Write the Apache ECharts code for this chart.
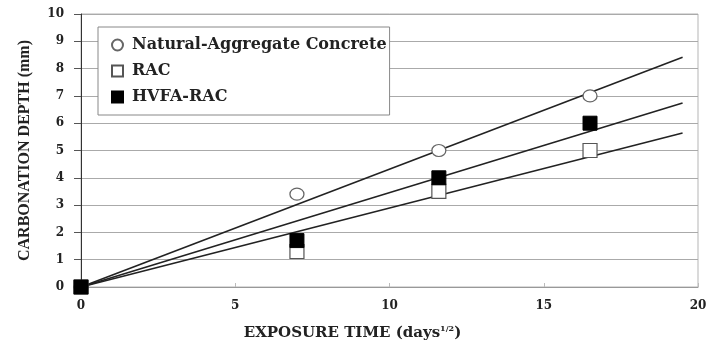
<!DOCTYPE html>
<html><head><meta charset="utf-8">
<script src="https://cdn.jsdelivr.net/npm/echarts@6/dist/echarts.min.js"></script>
<style>html,body{margin:0;padding:0;background:#fff}#c{width:710px;height:349px}</style>
</head><body><div id="c"></div>
<script>
const seriesNames = ['Natural-Aggregate Concrete', 'RAC', 'HVFA-RAC'];
const timeX = [0, 7, 11.6, 16.5];
const naturalY = [0, 3.4, 5.0, 7.0];
const racY = [0, 1.3, 3.5, 5.0];
const hvfaY = [0, 1.7, 4.0, 6.0];
const fitEndX = 19.5;
const fitEndY = [8.42, 5.64, 6.74]; // natural, rac, hvfa
const xTicks = [0, 5, 10, 15, 20];
const yTicks = [0,1,2,3,4,5,6,7,8,9,10];

const wide = 'DejaVu Serif';
const narrow = 'Liberation Serif';
const pts = ys => timeX.map((x,i)=>[x, ys[i]]);
const chart = echarts.init(document.getElementById('c'), null, {renderer:'canvas'});
const fitLine = (endY) => ({
  type:'line', data:[[0,0],[fitEndX,endY]], symbol:'none', silent:true,
  lineStyle:{color:'#222', width:1.6}, z:2
});
chart.setOption({
  animation:false,
  backgroundColor:'#fff',
  grid:{left:81, right:12, top:14, bottom:62, show:true, borderColor:'#b5b5b5', borderWidth:1},
  legend:{
    left:98, top:27, orient:'vertical', itemGap:10, itemWidth:11, itemHeight:11,
    padding:[10,3,10,13], borderColor:'#888', borderWidth:1, backgroundColor:'#fff',
    textStyle:{fontFamily:wide, fontWeight:'bold', fontSize:16, color:'#222', padding:[0,0,0,4]},
    data:seriesNames.map(n=>({name:n}))
  },
  xAxis:{
    type:'value', min:0, max:20, interval:5,
    name:'{t|EXPOSURE TIME (days}{s|1/2}{t|)}', nameLocation:'middle', nameGap:38,
    nameTextStyle:{padding:[0,74,0,0], rich:{t:{fontFamily:wide,fontWeight:'bold',fontSize:15,color:'#222'},
                          s:{fontFamily:wide,fontWeight:'bold',fontSize:8,color:'#222',verticalAlign:'top',padding:[0,0,8,0]}}},
    axisLine:{show:true, lineStyle:{color:'#999', width:1}},
    axisTick:{show:true, inside:true, length:4, lineStyle:{color:'#bbb'}},
    axisLabel:{fontFamily:wide, fontWeight:'bold', fontSize:12, color:'#222', margin:13},
    splitLine:{show:false}
  },
  yAxis:{
    type:'value', min:0, max:10, interval:1,
    name:'CARBONATION DEPTH (mm)', nameLocation:'middle', nameGap:48, nameRotate:90,
    nameTextStyle:{fontFamily:narrow, fontWeight:'bold', fontSize:16, color:'#222'},
    axisLine:{show:true, lineStyle:{color:'#333', width:1}},
    axisTick:{show:true, length:7, lineStyle:{color:'#555'}},
    axisLabel:{fontFamily:wide, fontWeight:'bold', fontSize:12, color:'#222', margin:17},
    splitLine:{show:true, lineStyle:{color:'#aaa', width:1.2}}
  },
  series:[
    fitLine(fitEndY[0]), fitLine(fitEndY[1]), fitLine(fitEndY[2]),
    {name:seriesNames[0], type:'scatter', data:pts(naturalY), symbol:'circle', symbolSize:[14,12],
     itemStyle:{color:'#fff', borderColor:'#666', borderWidth:1.2, opacity:1}, z:3},
    {name:seriesNames[1], type:'scatter', data:pts(racY), symbol:'rect', symbolSize:14,
     itemStyle:{color:'#fff', borderColor:'#555', borderWidth:1.2, opacity:1}, z:4},
    {name:seriesNames[2], type:'scatter', data:pts(hvfaY), symbol:'rect', symbolSize:14,
     itemStyle:{color:'#000', borderColor:'#000', borderWidth:1, opacity:1}, z:5}
  ]
});
</script></body></html>
